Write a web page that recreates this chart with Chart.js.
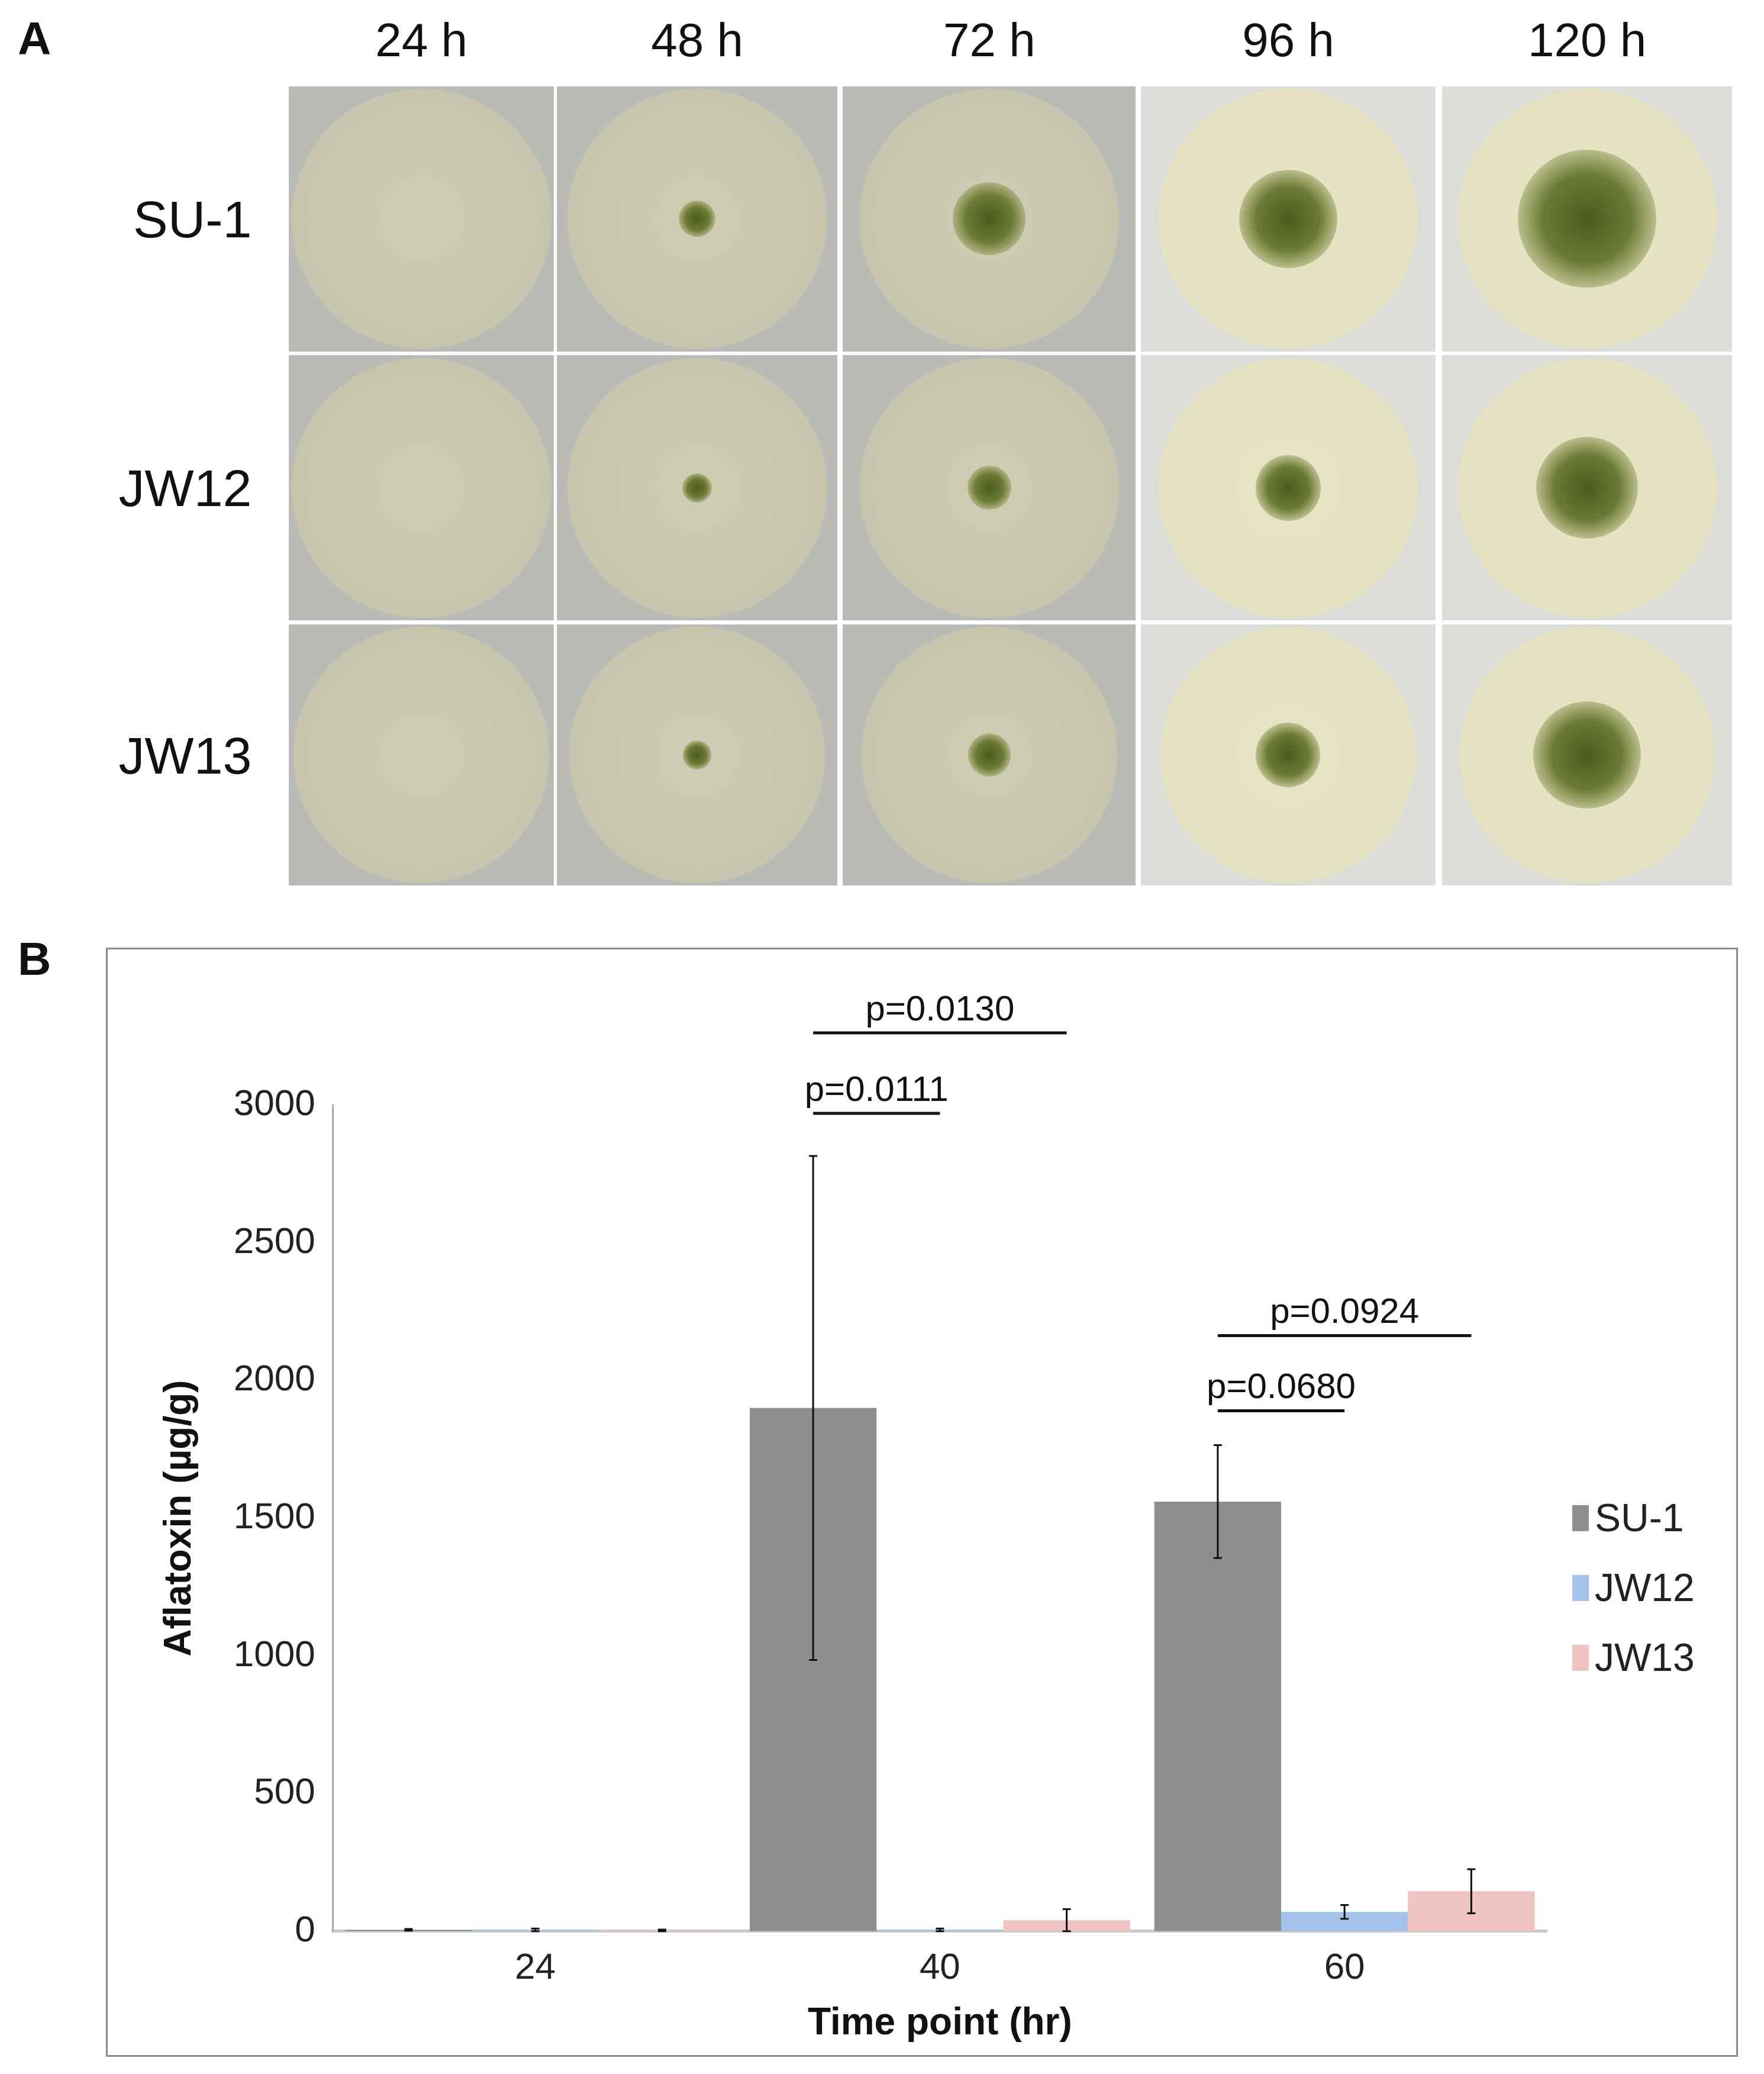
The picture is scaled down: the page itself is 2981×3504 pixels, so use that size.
<!DOCTYPE html>
<html><head><meta charset="utf-8">
<script src="https://cdn.jsdelivr.net/npm/chart.js@4"></script>
<style>
body{margin:0;width:2981px;height:3504px;background:#fff;font-family:"Liberation Sans",Arial,sans-serif;position:relative;overflow:hidden}
.t{position:absolute;color:#111;white-space:nowrap}
.plate{position:absolute;background:#c9c6b4;overflow:hidden}
.plate div{position:absolute;border-radius:50%}
#box{position:absolute;left:179px;top:1601px;width:2752px;height:1868px;border:3px solid #8a8a8a}
</style></head><body>
<div class="t" style="left:30px;top:20px;font-size:78px;font-weight:bold">A</div>
<div class="t" style="left:30px;top:1575px;font-size:78px;font-weight:bold">B</div>
<div id="plates"></div>
<div id="box"><canvas id="c" width="2752" height="1868"></canvas></div>
<script>
const headers=["24 h","48 h","72 h","96 h","120 h"];
const strains=["SU-1","JW12","JW13"];
const colonySize=[[0,0.10,0.20,0.27,0.38],[0,0.08,0.12,0.18,0.28],[0,0.08,0.12,0.18,0.30]];
const categories=["24","40","60"];
const su1=[5,1900,1560], su1Err=[3,915,205];
const jw12=[5,5,70], jw12Err=[5,5,25];
const jw13=[3,40,145], jw13Err=[3,40,80];
const pvals=[{g:1,a:0,b:1,y:2970,t:"p=0.0111"},{g:1,a:0,b:2,y:3262,t:"p=0.0130"},{g:2,a:0,b:1,y:1890,t:"p=0.0680"},{g:2,a:0,b:2,y:2163,t:"p=0.0924"}];

// Panel A (photographs approximated)
const s=2.2397;
const colX=[[218,418],[420,632],[636,857],[861,1083],[1088,1307]];
const rowY=[[65,265],[268,468],[471,668]];
const P=document.getElementById('plates');
headers.forEach((h,i)=>{const d=document.createElement('div');d.className='t';d.textContent=h;d.style.fontSize='80px';
d.style.left=((colX[i][0]+colX[i][1])/2*s)+'px';d.style.top=(10*s)+'px';d.style.transform='translateX(-50%)';P.appendChild(d);});
strains.forEach((st,r)=>{const d=document.createElement('div');d.className='t';d.textContent=st;d.style.fontSize='88px';
d.style.right=(2981-190*s)+'px';d.style.top=((rowY[r][0]+rowY[r][1])/2*s-50)+'px';P.appendChild(d);
colX.forEach((c,i)=>{const p=document.createElement('div');p.className='plate';const w=(c[1]-c[0])*s,h=(rowY[r][1]-rowY[r][0])*s;
p.style.left=c[0]*s+'px';p.style.top=rowY[r][0]*s+'px';p.style.width=w+'px';p.style.height=h+'px';
p.style.background=i<3?'#b9bcb6':'#dcdcd8';
const dish=document.createElement('div');const D=Math.min(w,h)*0.98;dish.style.width=D+'px';dish.style.height=D+'px';
dish.style.left=(w-D)/2+'px';dish.style.top=(h-D)/2+'px';dish.style.background=i<3?'radial-gradient(circle,#cfcdb4 0%,#c5c3ab 85%,#e6e6de 92%,#b8b8a8 100%)':'radial-gradient(circle,#e6e4c4 0%,#e3e1c2 85%,#f3f3ee 92%,#c8c8b8 100%)';
p.appendChild(dish);
const cs=colonySize[r][i];if(cs>0){const k=document.createElement('div');const K=D*cs*1.4;k.style.width=K+'px';k.style.height=K+'px';
k.style.left=(w-K)/2+'px';k.style.top=(h-K)/2+'px';k.style.background='radial-gradient(circle,#4d5a1e 0%,#6b7a33 45%,rgba(140,150,80,0.5) 70%,rgba(200,200,150,0) 100%)';p.appendChild(k);}
P.appendChild(p);});});

// Panel B
const errs=[su1Err,jw12Err,jw13Err];
const errPlugin={id:'err',afterDatasetsDraw(ch){const ctx=ch.ctx,y=ch.scales.y;ctx.save();ctx.strokeStyle='#111';ctx.lineWidth=3;
ch.data.datasets.forEach((ds,di)=>{ch.getDatasetMeta(di).data.forEach((bar,i)=>{const v=ds.data[i],e=errs[di][i];
const y1=y.getPixelForValue(v+e),y2=y.getPixelForValue(v-e);ctx.beginPath();ctx.moveTo(bar.x,y1);ctx.lineTo(bar.x,y2);
ctx.moveTo(bar.x-7,y1);ctx.lineTo(bar.x+7,y1);ctx.moveTo(bar.x-7,y2);ctx.lineTo(bar.x+7,y2);ctx.stroke();});});
// p-value brackets
ctx.lineWidth=5;ctx.fillStyle='#111';ctx.font='60px "Liberation Sans"';ctx.textAlign='center';ctx.textBaseline='bottom';
pvals.forEach(p=>{const xa=ch.getDatasetMeta(p.a).data[p.g].x,xb=ch.getDatasetMeta(p.b).data[p.g].x,yy=y.getPixelForValue(p.y);
ctx.beginPath();ctx.moveTo(xa,yy);ctx.lineTo(xb,yy);ctx.stroke();ctx.fillText(p.t,(xa+xb)/2,yy-8);});
// legend
ctx.textAlign='left';ctx.textBaseline='middle';ctx.font='66px "Liberation Sans"';
ch.data.datasets.forEach((ds,di)=>{const lx=2475,ly=y.getPixelForValue(1500)+di*118;ctx.fillStyle=ds.backgroundColor;ctx.fillRect(lx,ly-22,28,44);
ctx.fillStyle='#222';ctx.fillText(ds.label,lx+38,ly+4);});
ctx.restore();}};
new Chart(document.getElementById('c'),{type:'bar',
data:{labels:categories,datasets:[
{label:'SU-1',data:su1,backgroundColor:'#8e8e8e'},
{label:'JW12',data:jw12,backgroundColor:'#a3c3ea'},
{label:'JW13',data:jw13,backgroundColor:'#f0c3c3'}]},
options:{responsive:false,animation:false,devicePixelRatio:1,
layout:{padding:{left:80,top:263,right:320,bottom:10}},
categoryPercentage:0.94,barPercentage:1,
plugins:{legend:{display:false},tooltip:{enabled:false}},
scales:{
x:{grid:{display:false},border:{color:'#c8c8c8',width:5},ticks:{color:'#222',font:{size:62,family:'Liberation Sans'},padding:18},
 title:{display:true,text:'Time point (hr)',color:'#111',font:{size:64,weight:'bold',family:'Liberation Sans'},padding:{top:0}}},
y:{min:0,max:3000,grid:{display:false,drawTicks:true},border:{color:'#aaa',width:3},
 ticks:{stepSize:500,color:'#222',font:{size:62,family:'Liberation Sans'},padding:22,callback:v=>String(v)},
 title:{display:true,text:'Aflatoxin (µg/g)',color:'#111',font:{size:64,weight:'bold',family:'Liberation Sans'},padding:{bottom:30}}}}},
plugins:[errPlugin]});
</script></body></html>
